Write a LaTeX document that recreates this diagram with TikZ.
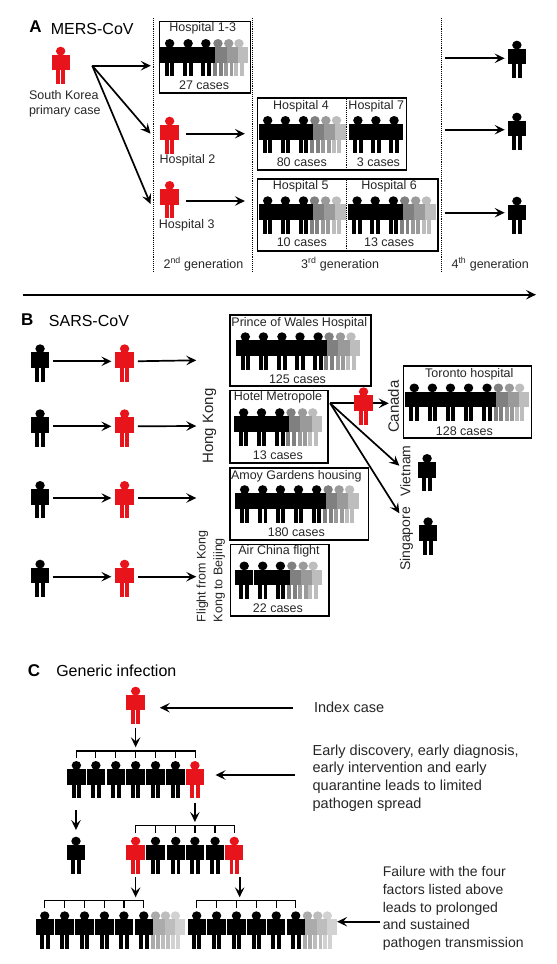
\documentclass[tikz,border=0pt]{standalone}
\usepackage{fontspec}
\setmainfont{Liberation Sans}
\usepackage{xcolor}
\usetikzlibrary{arrows.meta,calc}
\definecolor{inkText}{HTML}{262626}
\definecolor{caseRed}{HTML}{E8141C}
\definecolor{fadeA}{HTML}{808080}
\definecolor{fadeB}{HTML}{9A9A9A}
\definecolor{fadeC}{HTML}{BDBDBD}
\definecolor{paleA}{HTML}{ABABAB}
\definecolor{paleB}{HTML}{BDBDBD}
\definecolor{paleC}{HTML}{D2D2D2}
\tikzset{
  person/.pic={
    \fill[#1] (0,4.4) ellipse [x radius=4.7pt, y radius=4.4pt];
    \fill[#1] (-9.2,8) rectangle (9.2,23.5);
    \fill[#1] (-4.8,23) rectangle (-0.8,37.3);
    \fill[#1] (0.8,23) rectangle (4.8,37.3);
    \node[personbox] (-b) at (0,17) {};
  },
  personbox/.style={minimum width=18pt, minimum height=34pt, inner sep=0pt},
  casebox/.style={draw=black, line width=1.5pt, inner sep=0pt, anchor=north west},
  lbl/.style={font=\fontsize{12.5}{15}\selectfont, text=inkText, inner sep=0pt},
  note/.style={font=\fontsize{14.5}{17.7}\selectfont, text=inkText, inner sep=0pt, align=left, anchor=west},
  title/.style={font=\fontsize{16}{18}\selectfont, text=black, inner sep=0pt, anchor=west},
  letter/.style={font=\fontsize{17}{18}\selectfont\bfseries, text=black, inner sep=0pt},
  place/.style={font=\fontsize{15}{17}\selectfont, text=inkText, inner sep=0pt, rotate=90},
  genline/.style={line width=0.9pt, densely dotted, black},
  flow/.style={-{Stealth[length=10pt, width=9.5pt, inset=4pt]}, line width=1.7pt, black},
  shortflow/.style={flow, shorten <=4pt, shorten >=4pt},
  bracket/.style={line width=1.2pt, black}
}
\begin{document}
\begin{tikzpicture}[x=0.9944pt,y=-1pt]
  \useasboundingbox (0,0) rectangle (560.13,964);

  % panel A
  \node[letter] (la) at (35.7,27) {A};
  \node[title] (ta) at (51,28.5) {MERS-CoV};
  \pic (pk) at (61,46.7) {person=caseRed};
  \node[lbl, align=left, anchor=west] (tk) at (29,103.5) {South Korea\\primary case};
  \foreach \x in {154.6,253.8,443.8}
    \draw[genline] (\x,18) -- (\x,272);

  \node[casebox, minimum width=90.9pt, minimum height=71.3pt] (b13) at (159.6,20.7) {};
  \node[casebox, minimum width=149.2pt, minimum height=72.3pt] (b47) at (258,97) {};
  \node[casebox, minimum width=180.8pt, minimum height=72pt] (b56) at (258,178) {};
  \draw[genline] (348,97) -- (348,169.3);
  \draw[genline] (348,178) -- (348,250);

  \foreach \x/\c in {240.3/fadeC,230/fadeB,219.2/fadeA,207/black,189.2/black,170.6/black}
    \pic at (\x,39) {person=\c};
  \foreach \x/\c in {338.4/fadeC,327.7/fadeB,316.7/fadeA,305.2/black,287/black,269.2/black,396.3/black,378/black,359.9/black}
    \pic at (\x,116) {person=\c};
  \foreach \x/\c in {338.4/fadeC,327.4/fadeB,316.3/fadeA,305.2/black,287/black,269.2/black,428.8/fadeC,418/fadeB,407/fadeA,395.6/black,377.3/black,359.1/black}
    \pic at (\x,196.3) {person=\c};

  \node[lbl] (h13) at (203.8,28.7) {Hospital 1-3};
  \node[lbl] (c13) at (205.3,84.7) {27 cases};
  \node[lbl] (h4) at (302.7,106) {Hospital 4};
  \node[lbl] (h7) at (378.4,106) {Hospital 7};
  \node[lbl] (c4) at (303.5,161.7) {80 cases};
  \node[lbl] (c7) at (380.6,161.7) {3 cases};
  \node[lbl] (h5) at (302.4,186) {Hospital 5};
  \node[lbl] (h6) at (391.3,186) {Hospital 6};
  \node[lbl] (c5) at (303.5,242.3) {10 cases};
  \node[lbl] (c6) at (391.3,242.3) {13 cases};

  \pic (ph2) at (170.6,116.7) {person=caseRed};
  \pic (ph3) at (170.6,181) {person=caseRed};
  \node[lbl] (th2) at (188.5,160) {Hospital 2};
  \node[lbl] (th3) at (187.8,225.3) {Hospital 3};
  \node[lbl] (g2) at (204.6,264) {2\textsuperscript{nd} generation};
  \node[lbl] (g3) at (342,264) {3\textsuperscript{rd} generation};
  \node[lbl] (g4) at (493,264) {4\textsuperscript{th} generation};

  \coordinate (fana) at (92.8,65.7);
  \coordinate (enda) at (151.7,65.7);
  \draw[flow] (fana) -- (enda);
  \draw[flow] (fana) -- ($(ph2-b.west)+(-10,0)$);
  \draw[flow] (fana) -- ($(ph3-b.west)+(-10,6)$);
  \coordinate (in4) at (246.3,133.7);
  \coordinate (in5) at (246.3,201);
  \draw[shortflow, shorten >=0pt] (ph2-b.east) ++(3,0) -- (in4);
  \draw[shortflow, shorten >=0pt] (ph3-b.east |- in5) ++(3,0) -- (in5);

  \pic (pg1) at (519.8,40.7) {person=black};
  \pic (pg2) at (519.8,112.7) {person=black};
  \pic (pg3) at (519.8,196.7) {person=black};
  \coordinate (og1) at (448,58.3);
  \coordinate (og2) at (448,129.7);
  \coordinate (og3) at (448,212.7);
  \draw[flow, shorten >=3pt] (og1) -- (og1 -| pg1-b.west);
  \draw[flow, shorten >=3pt] (og2) -- (og2 -| pg2-b.west);
  \draw[flow, shorten >=3pt] (og3) -- (og3 -| pg3-b.west);

  \coordinate (t0) at (23.2,294.7);
  \coordinate (t1) at (539,294.7);
  \draw[flow] (t0) -- (t1);

  % panel B
  \node[letter] (lb) at (27.5,320) {B};
  \node[title] (tb) at (49,320.5) {SARS-CoV};
  \foreach \n/\y/\z in {1/344.3/360.3,2/409.3/426,3/481/498,4/559.7/576.7} {
    \pic (pb\n) at (40.3,\y) {person=black};
    \pic (pr\n) at (125.3,\y) {person=caseRed};
    \coordinate (to\n) at (197.4,\z);
    \draw[shortflow] (pb\n-b) ++(9,0) -- (pr\n-b.west);
    \draw[shortflow, shorten >=0pt] (pr\n-b.east) -- (to\n);
  }
  \node[place] (hk) at (210.6,426) {Hong Kong};
  \node[lbl, rotate=90, align=left, font=\fontsize{12.5}{16.8}\selectfont] (fl) at (212,576.3) {Flight from Kong\\Kong to Beijing};

  \node[casebox, minimum width=141.3pt, minimum height=71.3pt] (bw) at (230.3,314) {};
  \node[casebox, minimum width=98.3pt, minimum height=72.6pt] (bm) at (230.3,389.7) {};
  \node[casebox, minimum width=138.9pt, minimum height=72pt] (ba) at (230.3,467) {};
  \node[casebox, minimum width=98.3pt, minimum height=71.6pt] (bc) at (231,543.7) {};
  \node[casebox, minimum width=127.8pt, minimum height=72pt] (bt) at (405.2,365.3) {};

  \foreach \x/\c in {353/fadeC,342.4/fadeB,331/fadeA,319.9/black,301.7/black,283.5/black,264.9/black,246.7/black}
    \pic at (\x,332.3) {person=\c};
  \foreach \x/\c in {314.5/fadeC,304.2/fadeB,292.7/fadeA,281.3/black,263/black,245/black}
    \pic at (\x,408.2) {person=\c};
  \foreach \x/\c in {351.6/fadeC,341/fadeB,330/fadeA,318.4/black,300.2/black,282/black,264.2/black,246/black}
    \pic at (\x,485.2) {person=\c};
  \foreach \x/\c in {314.9/fadeC,304.9/fadeB,293.5/fadeA,282/black,264.2/black,245.6/black}
    \pic at (\x,561.5) {person=\c};
  \foreach \x/\c in {522.6/fadeC,512.3/fadeB,501.2/fadeA,489.8/black,471.2/black,453/black,434.8/black,416.6/black}
    \pic at (\x,383.5) {person=\c};

  \node[lbl] (hw) at (301,323) {Prince of Wales Hospital};
  \node[lbl] (cw) at (299.2,378.7) {125 cases};
  \node[lbl] (hm) at (279.5,397.7) {Hotel Metropole};
  \node[lbl] (cm) at (279.5,454.7) {13 cases};
  \node[lbl] (ha) at (298,476.3) {Amoy Gardens housing};
  \node[lbl] (ca) at (298,532.3) {180 cases};
  \node[lbl] (hc) at (280.6,551.7) {Air China flight};
  \node[lbl] (cc) at (279.5,607.7) {22 cases};
  \node[lbl] (ht) at (472,374) {Toronto hospital};
  \node[lbl] (ct) at (467,431) {128 cases};

  \coordinate (fanb) at (332,403.3);
  \coordinate (endb) at (391,403.3);
  \coordinate (endv) at (401.6,465.7);
  \coordinate (ends) at (401.6,513.3);
  \draw[flow] (fanb) -- (endb);
  \draw[flow] (fanb) -- (endv);
  \draw[flow] (fanb) -- (ends);
  \pic (pc) at (365.6,387.3) {person=caseRed};
  \pic (pv) at (429.5,454) {person=black};
  \pic (ps) at (430.5,517.3) {person=black};
  \node[place] (ca1) at (395.6,406.7) {Canada};
  \node[place, font=\fontsize{14}{16}\selectfont] (vi) at (407.7,471) {Vietnam};
  \node[place, font=\fontsize{14}{16}\selectfont] (si) at (408.8,539) {Singapore};

  % panel C
  \node[letter] (lc) at (34.3,670.7) {C};
  \node[title] (tc) at (56.4,671) {Generic infection};
  \pic (pi) at (136.4,686.7) {person=caseRed};
  \node[note] (ni) at (315.6,707.3) {Index case};
  \coordinate (oi) at (294.5,707.7);
  \coordinate (ii) at (160.7,707.7);
  \draw[flow] (oi) -- (ii);
  \coordinate (di) at (136.4,747.3);
  \draw[flow] (pi-b.south) ++(0,6.6) -- (di);

  \draw[bracket] (76.8,758.3) -- (76.8,751) -- (196.4,751) -- (196.4,758.3);
  \foreach \x in {96.4,116.4,136.4,156.4,176.4}
    \draw[bracket] (\x,751) -- (\x,758.3);
  \foreach \x/\c in {76.8/black,96.4/black,116.4/black,136.4/black,156.4/black,176.4/black,196/caseRed}
    \pic at (\x,761) {person=\c};
  \node[note] (ne) at (314.2,778) {Early discovery, early diagnosis,\\early intervention and early\\quarantine leads to limited\\pathogen spread};
  \coordinate (oe) at (296.3,775);
  \coordinate (ie) at (216.7,775);
  \draw[flow] (oe) -- (ie);

  \coordinate (d1a) at (76.4,810);
  \coordinate (d1b) at (76.4,830);
  \coordinate (d2a) at (196,802.7);
  \coordinate (d2b) at (196,822);
  \draw[flow] (d1a) -- (d1b);
  \draw[flow] (d2a) -- (d2b);
  \pic (ps1) at (76.4,836.7) {person=black};

  \draw[bracket] (136.4,833.3) -- (136.4,825.7) -- (235.6,825.7) -- (235.6,833.3);
  \foreach \x in {156.4,176.7,196,216.3}
    \draw[bracket] (\x,825.7) -- (\x,833.3);
  \foreach \x/\c in {136.4/caseRed,156.4/black,176.7/black,196/black,216.3/black,235.6/caseRed}
    \pic at (\x,836.7) {person=\c};

  \coordinate (d3a) at (136.4,877.3);
  \coordinate (d3b) at (136.4,897.3);
  \coordinate (d4a) at (241,877.3);
  \coordinate (d4b) at (241,897.3);
  \draw[flow] (d3a) -- (d3b);
  \draw[flow] (d4a) -- (d4b);

  \draw[bracket] (45,908.3) -- (45,900.7) -- (144.6,900.7) -- (144.6,908.3);
  \foreach \x in {65,85,105,124.6}
    \draw[bracket] (\x,900.7) -- (\x,908.3);
  \draw[bracket] (197.8,908.3) -- (197.8,900.7) -- (297.4,900.7) -- (297.4,908.3);
  \foreach \x in {217.8,237.8,257.8,277.8}
    \draw[bracket] (\x,900.7) -- (\x,908.3);
  \foreach \x/\c in {176.4/paleC,166.4/paleB,156.4/paleA,144.6/black,124.6/black,105/black,85/black,65/black,45/black,329.2/paleC,319.5/paleB,309.2/paleA,297.4/black,277.8/black,257.8/black,237.8/black,217.8/black,197.8/black}
    \pic at (\x,911.3) {person=\c};

  \node[note, font=\fontsize{14}{17.7}\selectfont] (nf) at (384.8,908.5) {Failure with the four\\factors listed above\\leads to prolonged\\and sustained\\pathogen transmission};
  \coordinate (of) at (382,921.7);
  \coordinate (if) at (339,921.7);
  \draw[flow] (of) -- (if);
\end{tikzpicture}
\end{document}
